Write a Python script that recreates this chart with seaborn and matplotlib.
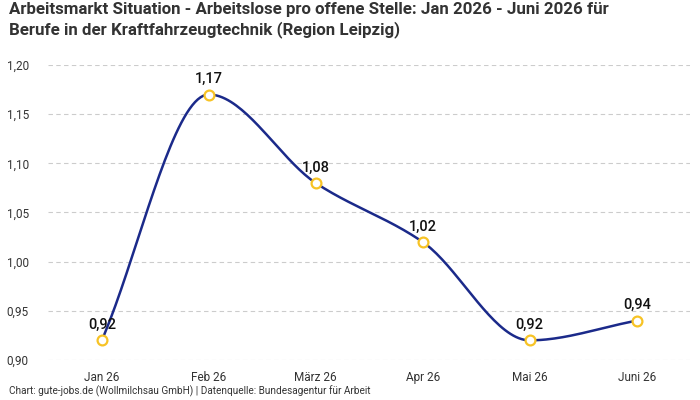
import numpy as np
import pandas as pd
import matplotlib.pyplot as plt
import seaborn as sns

sns.set_theme(style="white")
plt.rcParams['font.family'] = ['Roboto', 'DejaVu Sans']

# data
months = ["Jan 26", "Feb 26", "März 26", "Apr 26", "Mai 26", "Juni 26"]
ratio = [0.92, 1.17, 1.08, 1.02, 0.92, 0.94]

line_color = "#1b2a8a"
marker_edge = "#f7c325"


def monotone_curve(x, y, n=40):
    # Fritsch-Carlson monotone cubic, for the smooth line between the points
    x = np.asarray(x, float)
    y = np.asarray(y, float)
    h = np.diff(x)
    d = np.diff(y) / h
    m = np.zeros_like(y)
    m[0], m[-1] = d[0], d[-1]
    for i in range(1, len(y) - 1):
        if d[i - 1] * d[i] <= 0:
            m[i] = 0
        else:
            w1 = 2 * h[i] + h[i - 1]
            w2 = h[i] + 2 * h[i - 1]
            m[i] = (w1 + w2) / (w1 / d[i - 1] + w2 / d[i])
    xs, ys = [], []
    for i in range(len(h)):
        t = np.linspace(0, 1, n)
        h00 = 2 * t**3 - 3 * t**2 + 1
        h10 = t**3 - 2 * t**2 + t
        h01 = -2 * t**3 + 3 * t**2
        h11 = t**3 - t**2
        xs.append(x[i] + t * h[i])
        ys.append(h00 * y[i] + h10 * h[i] * m[i] + h01 * y[i + 1] + h11 * h[i] * m[i + 1])
    return np.concatenate(xs), np.concatenate(ys)


df = pd.DataFrame({"pos": np.arange(len(months)), "Monat": months, "Wert": ratio})
sx, sy = monotone_curve(df["pos"], df["Wert"])
smooth = pd.DataFrame({"x": sx, "y": sy})

fig = plt.figure(figsize=(7, 4), dpi=100)
ax = fig.add_axes([0.069, 0.10, 0.917, 0.7375])

sns.lineplot(data=smooth, x="x", y="y", ax=ax, color=line_color, linewidth=1.8,
             sort=False, zorder=2)
sns.scatterplot(data=df, x="pos", y="Wert", ax=ax, s=50, facecolor="white",
                edgecolor=marker_edge, linewidth=1.6, zorder=3)

for p, v in zip(df["pos"], df["Wert"]):
    ax.annotate(f"{v:.2f}".replace(".", ","), (p, v), xytext=(0, 6),
                textcoords="offset points", ha="center", va="bottom",
                fontsize=10.5, fontweight="medium", color="#111111", zorder=4)

ax.set_xlim(-0.5, len(months) - 0.5)
ax.set_ylim(0.9, 1.2)
ax.set_xticks(df["pos"])
ax.set_xticklabels(months)
yt = np.arange(0.90, 1.2001, 0.05)
ax.set_yticks(yt)
ax.set_yticklabels([f"{t:.2f}".replace(".", ",") for t in yt])
ax.tick_params(axis="both", labelsize=8.5, colors="#333333", length=0, pad=14)
ax.tick_params(axis="x", pad=8)
ax.set_xlabel("")
ax.set_ylabel("")
ax.grid(axis="y", color="#cccccc", linestyle=(0, (4, 3)), linewidth=0.8)
ax.grid(axis="x", visible=False)
for s in ax.spines.values():
    s.set_visible(False)

fig.text(0.013, 0.995, "Arbeitsmarkt Situation - Arbeitslose pro offene Stelle: Jan 2026 - Juni 2026 für\n"
         "Berufe in der Kraftfahrzeugtechnik (Region Leipzig)",
         ha="left", va="top", fontsize=12.2, fontweight="bold", color="#333333", linespacing=1.3)
fig.text(0.013, 0.008, "Chart: gute-jobs.de (Wollmilchsau GmbH) | Datenquelle: Bundesagentur für Arbeit",
         ha="left", va="bottom", fontsize=7.2, color="#333333")

fig.savefig("out.png", dpi=100)
